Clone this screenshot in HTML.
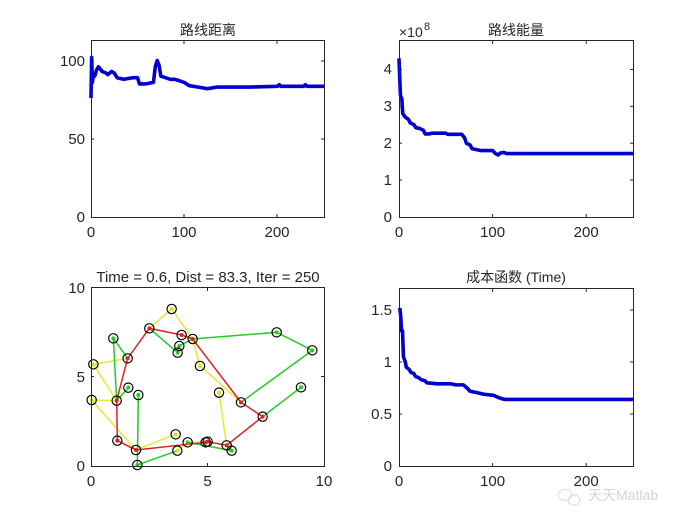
<!DOCTYPE html>
<html><head><meta charset="utf-8"><style>
body{margin:0;background:#fff}
svg{display:block}
text{font-family:"Liberation Sans","Noto Sans CJK SC",sans-serif;fill:#262626;font-size:15px}
.t{font-size:14px}
</style></head><body>
<svg width="700" height="525" viewBox="0 0 700 525" xmlns="http://www.w3.org/2000/svg">
<rect width="700" height="525" fill="#fff"/>
<!-- Top-left -->
<g transform="translate(91,217) scale(0.932,-1.565)">
<polyline vector-effect="non-scaling-stroke" fill="none" stroke="#0000d0" stroke-width="3.6" stroke-linejoin="round" points="0,76 0.7,102 1.5,86 2.5,91 4,90 6,94 8,96 12,93 16,92 18,91 22,93 25,92 28,89 35,88 45,89 50,89 52,85 58,85 67,86 69,96 71,100 73,97 75,90 80,89 85,88 90,88 95,87 100,86 105,84 115,83 125,82 135,83 150,83 170,83 200,83.5 202,84.5 204,83.5 228,83.5 230,84.5 232,83.5 250,83.5"/>
</g>
<rect x="91.5" y="40.5" width="233" height="177" fill="none" stroke="#262626" stroke-width="1"/>
<g stroke="#262626">
<line x1="91" y1="139" x2="94" y2="139"/><line x1="91" y1="61" x2="94" y2="61"/>
<line x1="324" y1="139" x2="321" y2="139"/><line x1="324" y1="61" x2="321" y2="61"/>
<line x1="184" y1="217" x2="184" y2="214"/><line x1="277" y1="217" x2="277" y2="214"/>
<line x1="184" y1="41" x2="184" y2="44"/><line x1="277" y1="41" x2="277" y2="44"/>
</g>
<text x="85" y="222" text-anchor="end">0</text>
<text x="85" y="144" text-anchor="end">50</text>
<text x="85" y="66" text-anchor="end">100</text>
<text x="91" y="237" text-anchor="middle">0</text>
<text x="184" y="237" text-anchor="middle">100</text>
<text x="277" y="237" text-anchor="middle">200</text>
<text class="t" x="208" y="35" text-anchor="middle">路线距离</text>

<!-- Top-right -->
<g transform="translate(399,217) scale(0.936,-36.9)">
<polyline vector-effect="non-scaling-stroke" fill="none" stroke="#0000d0" stroke-width="3.6" stroke-linejoin="round" points="0,4.3 1.5,3.3 3,3.2 4,2.8 7,2.7 10,2.65 12,2.55 16,2.5 18,2.42 22,2.4 26,2.35 28,2.25 32,2.25 35,2.27 50,2.27 52,2.24 67,2.24 70,2.15 72,2.0 76,1.95 78,1.85 88,1.8 100,1.8 103,1.72 106,1.68 108,1.73 112,1.75 115,1.72 250,1.72"/>
</g>
<rect x="399.5" y="40.5" width="234" height="177" fill="none" stroke="#262626" stroke-width="1"/>
<g stroke="#262626">
<line x1="399" y1="180" x2="402" y2="180"/><line x1="399" y1="143.2" x2="402" y2="143.2"/><line x1="399" y1="106.3" x2="402" y2="106.3"/><line x1="399" y1="69.4" x2="402" y2="69.4"/>
<line x1="633" y1="180" x2="630" y2="180"/><line x1="633" y1="143.2" x2="630" y2="143.2"/><line x1="633" y1="106.3" x2="630" y2="106.3"/><line x1="633" y1="69.4" x2="630" y2="69.4"/>
<line x1="492.6" y1="217" x2="492.6" y2="214"/><line x1="586.2" y1="217" x2="586.2" y2="214"/>
<line x1="492.6" y1="41" x2="492.6" y2="44"/><line x1="586.2" y1="41" x2="586.2" y2="44"/>
</g>
<text x="392" y="222" text-anchor="end">0</text>
<text x="392" y="185" text-anchor="end">1</text>
<text x="392" y="148" text-anchor="end">2</text>
<text x="392" y="111" text-anchor="end">3</text>
<text x="392" y="74" text-anchor="end">4</text>
<text x="399" y="37" class="t">×10</text><text x="424" y="30" style="font-size:11px">8</text>
<text x="399" y="237" text-anchor="middle">0</text>
<text x="492.6" y="237" text-anchor="middle">100</text>
<text x="586.2" y="237" text-anchor="middle">200</text>
<text class="t" x="516" y="35" text-anchor="middle">路线能量</text>

<!-- Bottom-right -->
<g transform="translate(399.7,466) scale(0.936,-104)">
<polyline vector-effect="non-scaling-stroke" fill="none" stroke="#0000d0" stroke-width="3.6" stroke-linejoin="round" points="0,1.52 1,1.45 2,1.3 3,1.3 4,1.05 6,1.0 7,0.95 10,0.93 12,0.9 15,0.89 17,0.86 20,0.85 23,0.83 27,0.82 29,0.8 40,0.79 55,0.79 60,0.78 68,0.78 72,0.75 75,0.72 80,0.71 90,0.69 100,0.68 105,0.66 110,0.645 113,0.64 250,0.64"/>
</g>
<rect x="399.5" y="288.5" width="234" height="178" fill="none" stroke="#262626" stroke-width="1"/>
<g stroke="#262626">
<line x1="399" y1="414" x2="402" y2="414"/><line x1="399" y1="362" x2="402" y2="362"/><line x1="399" y1="310" x2="402" y2="310"/>
<line x1="633" y1="414" x2="630" y2="414"/><line x1="633" y1="362" x2="630" y2="362"/><line x1="633" y1="310" x2="630" y2="310"/>
<line x1="492.6" y1="466" x2="492.6" y2="463"/><line x1="586.2" y1="466" x2="586.2" y2="463"/>
<line x1="492.6" y1="289" x2="492.6" y2="292"/><line x1="586.2" y1="289" x2="586.2" y2="292"/>
</g>
<text x="392" y="471" text-anchor="end">0</text>
<text x="392" y="419" text-anchor="end">0.5</text>
<text x="392" y="367" text-anchor="end">1</text>
<text x="392" y="315" text-anchor="end">1.5</text>
<text x="399" y="486" text-anchor="middle">0</text>
<text x="492.6" y="486" text-anchor="middle">100</text>
<text x="586.2" y="486" text-anchor="middle">200</text>
<text class="t" x="516" y="282" text-anchor="middle">成本函数 (Time)</text>

<!-- Bottom-left -->
<g transform="translate(80,280) scale(0.3333)">
<g fill="none" stroke-width="4.5">
<g stroke="#e8e830">
<polyline points="143,235 40,253 110,362"/>
<polyline points="35,360 110,362"/>
<polyline points="35,360 168,510"/>
<polyline points="208,145 275,87 338,177 360,258 483,367"/>
<polyline points="417,338 440,496"/>
<polyline points="287,463 168,510"/>
<polyline points="292,512 323,487 377,487"/>
</g>
<g stroke="#22cc22">
<polyline points="100,175 110,362 145,323"/>
<polyline points="100,175 143,235"/>
<polyline points="175,345 172,555 292,512"/>
<polyline points="208,145 293,218 298,198 338,177 590,157 697,211 483,367"/>
<polyline points="663,322 548,410"/>
<polyline points="323,487 455,512 440,496"/>
</g>
<g stroke="#dd2222">
<polyline points="110,362 112,482 168,510 377,487 383,485 440,496 548,410 483,367 338,177 305,165 208,145 143,235 110,362"/>
</g>
</g>
<g stroke="none">
<g fill="#e0e020"><circle cx="40" cy="253" r="6"/><circle cx="35" cy="360" r="6"/><circle cx="275" cy="87" r="6"/><circle cx="360" cy="258" r="6"/><circle cx="417" cy="338" r="6"/><circle cx="287" cy="463" r="6"/><circle cx="292" cy="512" r="6"/></g>
<g fill="#22cc22"><circle cx="100" cy="175" r="6"/><circle cx="145" cy="323" r="6"/><circle cx="175" cy="345" r="6"/><circle cx="172" cy="555" r="6"/><circle cx="298" cy="198" r="6"/><circle cx="293" cy="218" r="6"/><circle cx="590" cy="157" r="6"/><circle cx="697" cy="211" r="6"/><circle cx="663" cy="322" r="6"/><circle cx="323" cy="487" r="6"/><circle cx="455" cy="512" r="6"/></g>
<g fill="#dd2222"><circle cx="143" cy="235" r="6"/><circle cx="110" cy="362" r="6"/><circle cx="112" cy="482" r="6"/><circle cx="168" cy="510" r="6"/><circle cx="208" cy="145" r="6"/><circle cx="305" cy="165" r="6"/><circle cx="338" cy="177" r="6"/><circle cx="483" cy="367" r="6"/><circle cx="548" cy="410" r="6"/><circle cx="377" cy="487" r="6"/><circle cx="383" cy="485" r="6"/><circle cx="440" cy="496" r="6"/></g>
</g>
<g stroke="#000" stroke-width="3.5" fill="none">
<circle cx="40" cy="253" r="14"/><circle cx="35" cy="360" r="14"/><circle cx="100" cy="175" r="14"/><circle cx="143" cy="235" r="14"/><circle cx="110" cy="362" r="14"/><circle cx="145" cy="323" r="14"/><circle cx="175" cy="345" r="14"/><circle cx="112" cy="482" r="14"/><circle cx="168" cy="510" r="14"/><circle cx="172" cy="555" r="14"/><circle cx="208" cy="145" r="14"/><circle cx="275" cy="87" r="14"/><circle cx="305" cy="165" r="14"/><circle cx="298" cy="198" r="14"/><circle cx="293" cy="218" r="14"/><circle cx="338" cy="177" r="14"/><circle cx="360" cy="258" r="14"/><circle cx="590" cy="157" r="14"/><circle cx="697" cy="211" r="14"/><circle cx="417" cy="338" r="14"/><circle cx="483" cy="367" r="14"/><circle cx="548" cy="410" r="14"/><circle cx="663" cy="322" r="14"/><circle cx="287" cy="463" r="14"/><circle cx="292" cy="512" r="14"/><circle cx="323" cy="487" r="14"/><circle cx="377" cy="487" r="14"/><circle cx="383" cy="485" r="14"/><circle cx="440" cy="496" r="14"/><circle cx="455" cy="512" r="14"/>
</g>
</g>
<rect x="91.5" y="287.5" width="233" height="179" fill="none" stroke="#262626" stroke-width="1"/>
<g stroke="#262626">
<line x1="91" y1="376.5" x2="94" y2="376.5"/><line x1="324" y1="376.5" x2="321" y2="376.5"/>
<line x1="207.5" y1="466" x2="207.5" y2="463"/><line x1="207.5" y1="288" x2="207.5" y2="291"/>
</g>
<text x="85" y="471" text-anchor="end">0</text>
<text x="85" y="382" text-anchor="end">5</text>
<text x="85" y="293" text-anchor="end">10</text>
<text x="91" y="486" text-anchor="middle">0</text>
<text x="207.5" y="486" text-anchor="middle">5</text>
<text x="324" y="486" text-anchor="middle">10</text>
<text x="208" y="282" text-anchor="middle">Time = 0.6, Dist = 83.3, Iter = 250</text>

<!-- watermark -->
<g opacity="0.5">
<ellipse cx="565" cy="495" rx="7" ry="5.5" fill="none" stroke="#bbb"/>
<ellipse cx="574" cy="500" rx="6" ry="5" fill="none" stroke="#bbb"/>
<text x="588" y="500" style="fill:#aaa;font-size:14px">天天Matlab</text>
</g>
</svg>
</body></html>
